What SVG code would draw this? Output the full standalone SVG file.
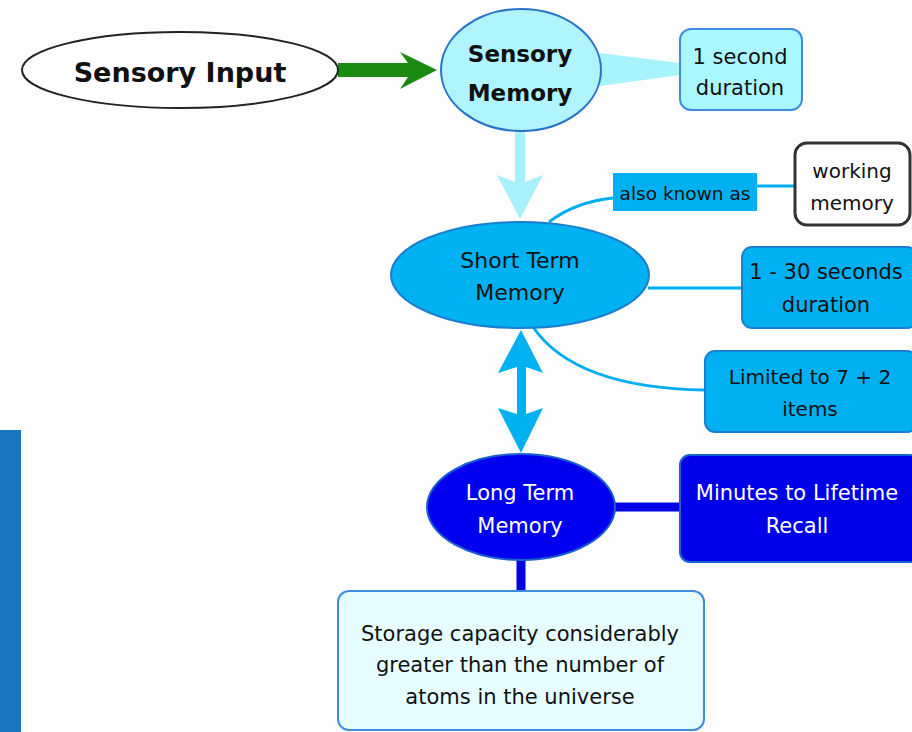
<svg xmlns="http://www.w3.org/2000/svg" width="912" height="732" viewBox="0 0 912 732">
<style>
text{font-family:"DejaVu Sans","Liberation Sans",sans-serif;text-anchor:middle;fill:#111}
.b{font-weight:bold}
.w{fill:#fff}
.r21{font-size:21px}
</style>
<rect x="0" y="0" width="912" height="732" fill="#fdfdfd"/>
<rect x="0" y="430" width="21" height="302" fill="#1a75bd"/>
<g id="connectors">
<path d="M338,63 H408 L400,52 L437,70 L400,89 L408,77 H338 Z" fill="#1a8a10"/>
<path d="M600,53 L680,63 L680,75 L600,86 Z" fill="#a8f4fc"/>
<path d="M515,130 H525 V182 L543,175 L520,219 L497,175 L515,182 Z" fill="#a8f0fc"/>
<path d="M549,222 Q575,202 613,198" fill="none" stroke="#00aef0" stroke-width="3"/>
<line x1="757" y1="186" x2="795" y2="186" stroke="#00aef0" stroke-width="3"/>
<line x1="648" y1="288" x2="742" y2="288" stroke="#00aef0" stroke-width="3"/>
<path d="M533,327 Q575,388 705,390" fill="none" stroke="#00aef0" stroke-width="3"/>
<path d="M521,330 L543,373 L526,367 V414 L543,408 L521,453 L498,408 L517,414 V367 L498,373 Z" fill="#00b0f0"/>
<line x1="614" y1="507" x2="680" y2="507" stroke="#0000e6" stroke-width="9"/>
<line x1="521" y1="558" x2="521" y2="592" stroke="#0000e6" stroke-width="9"/>
</g>
<g id="sensory-input">
<ellipse cx="180" cy="70" rx="158" ry="38" fill="#fff" stroke="#222" stroke-width="2"/>
<text x="180" y="82" class="b" font-size="27">Sensory Input</text>
</g>
<g id="sensory-memory">
<ellipse cx="521" cy="70" rx="80" ry="61" fill="#b0f4fd" stroke="#2a74c8" stroke-width="2"/>
<text x="520" y="62" class="b" font-size="23">Sensory</text>
<text x="520" y="101" class="b" font-size="23">Memory</text>
</g>
<g id="one-second">
<rect x="680" y="29" width="122" height="81" rx="11" fill="#aaf8ff" stroke="#3f8de0" stroke-width="2"/>
<text x="740" y="64" class="r21">1 second</text>
<text x="740" y="95" class="r21">duration</text>
</g>
<g id="also-known-as">
<rect x="613" y="173" width="144" height="38" fill="#00b0f0"/>
<text x="685" y="200" font-size="18.5">also known as</text>
</g>
<g id="working-memory">
<rect x="795" y="143" width="115" height="82" rx="12" fill="#fff" stroke="#333" stroke-width="3"/>
<text x="852" y="178" font-size="20">working</text>
<text x="852" y="210" font-size="20">memory</text>
</g>
<g id="short-term">
<ellipse cx="520" cy="275" rx="129" ry="53" fill="#00b2f2" stroke="#1a7fd0" stroke-width="2"/>
<text x="520" y="268" font-size="22">Short Term</text>
<text x="520" y="300" font-size="22">Memory</text>
</g>
<g id="seconds-30">
<rect x="742" y="247" width="175" height="81" rx="10" fill="#00b0f0" stroke="#1a7fd0" stroke-width="2"/>
<text x="826" y="279" class="r21">1 - 30 seconds</text>
<text x="826" y="312" class="r21">duration</text>
</g>
<g id="limited">
<rect x="705" y="351" width="212" height="81" rx="10" fill="#00b0f0" stroke="#1a7fd0" stroke-width="2"/>
<text x="810" y="384" font-size="20">Limited to 7 + 2</text>
<text x="810" y="416" font-size="20">items</text>
</g>
<g id="long-term">
<ellipse cx="521" cy="507" rx="94" ry="53" fill="#0000ee" stroke="#1a5fd0" stroke-width="2"/>
<text x="520" y="500" class="r21 w">Long Term</text>
<text x="520" y="533" class="r21 w">Memory</text>
</g>
<g id="minutes">
<rect x="680" y="455" width="240" height="107" rx="10" fill="#0000e8" stroke="#1a5fd0" stroke-width="2"/>
<text x="797" y="500" class="r21 w">Minutes to Lifetime</text>
<text x="797" y="533" class="r21 w">Recall</text>
</g>
<g id="storage">
<rect x="338" y="591" width="366" height="139" rx="11" fill="#e6feff" stroke="#3f8de0" stroke-width="2"/>
<text x="520" y="641" class="r21">Storage capacity considerably</text>
<text x="520" y="672" class="r21">greater than the number of</text>
<text x="520" y="704" class="r21">atoms in the universe</text>
</g>
</svg>
